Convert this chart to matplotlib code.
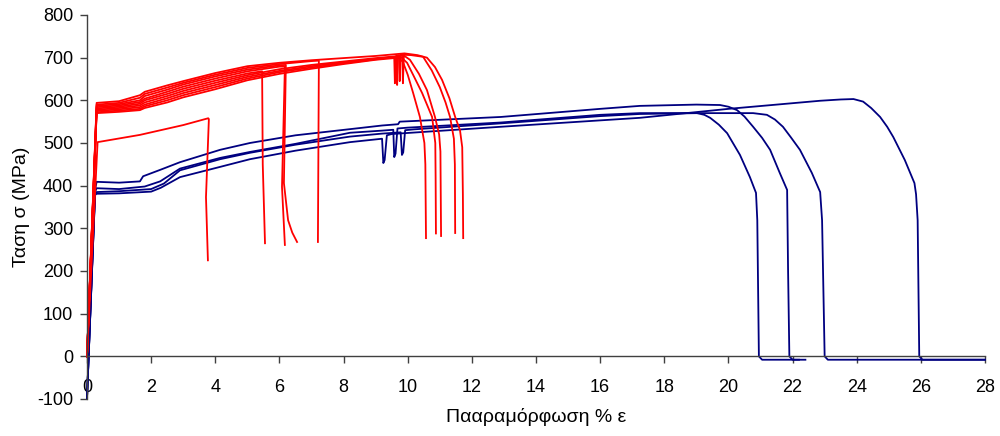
import matplotlib
matplotlib.use("Agg")
import matplotlib.pyplot as plt

plt.rcParams['font.family'] = ['Liberation Sans', 'DejaVu Sans']
plt.rcParams['axes.unicode_minus'] = False

# ---- blue specimens (strain %, stress MPa) ----
blue_a_eps = [0, 0.25, 0.3, 1.0, 1.8, 2.28, 2.9, 4.15, 5.08, 6.5, 8.2, 9.2, 9.55, 9.58, 9.62, 9.68,
              10.0, 12.9, 16.0, 17.24, 19.02, 19.25, 19.43, 19.7, 19.96, 20.36, 20.67, 20.86,
              20.9, 20.95, 21.05, 22.4]
blue_a_sig = [-98, 385, 394, 392, 398, 410, 440, 465, 479, 498, 524, 529, 531, 467, 475, 534,
              536, 548, 566, 570, 570, 566, 559, 543, 523, 472, 420, 383,
              319, 0, -8, -8]

blue_b_eps = [0, 0.25, 0.3, 1.0, 1.65, 1.75, 2.28, 2.9, 4.15, 5.08, 6.5, 8.5, 9.2, 9.7, 9.75,
              12.9, 16.0, 17.24, 19.0, 19.74, 20.0, 20.27, 20.5, 20.77, 21.05, 21.3, 21.6, 21.83,
              21.86, 21.9, 22.0, 22.2]
blue_b_sig = [-98, 390, 409, 407, 410, 422, 437, 455, 484, 500, 518, 535, 541, 544, 550,
              561, 580, 587, 590, 589, 585, 577, 562, 538, 512, 484, 430, 390,
              200, 0, -8, -8]

blue_c_eps = [0, 0.25, 0.3, 1.0, 2.0, 2.4, 2.9, 4.15, 5.08, 6.5, 8.2, 9.2, 9.78, 9.82, 9.86, 9.92,
              10.2, 12.9, 16.0, 17.24, 19.0, 20.77, 21.2, 21.45, 21.7, 21.95, 22.23, 22.6, 22.86,
              22.92, 23.0, 23.1, 28.0]
blue_c_sig = [-98, 380, 385, 387, 392, 405, 436, 462, 477, 496, 515, 522, 525, 472, 478, 530,
              532, 546, 563, 568, 570, 570, 566, 555, 538, 513, 484, 430, 385,
              319, 0, -8, -8]

blue_d_eps = [0, 0.25, 0.3, 1.0, 2.0, 2.3, 2.9, 4.15, 5.08, 6.5, 8.2, 9.2, 9.24, 9.28, 9.35, 9.5,
              12.9, 16.0, 17.24, 20.0, 22.86, 23.5, 23.9, 24.2, 24.45, 24.73, 24.95, 25.14, 25.5,
              25.8, 25.85, 25.9, 25.95, 26.05, 28.0]
blue_d_sig = [-98, 378, 381, 382, 386, 395, 420, 444, 462, 482, 502, 510, 453, 460, 518, 521,
              538, 553, 559, 580, 599, 602, 603, 597, 582, 561, 538, 514, 460,
              406, 380, 319, 0, -8, -8]

# ---- red specimens ----
red_1_eps = [0, 0.33, 1.65, 3.0, 3.78, 3.80, 3.71, 3.77]
red_1_sig = [0, 502, 519, 542, 558, 556, 373, 225]

red_2_eps = [0, 0.3, 1.0, 1.65, 1.8, 2.5, 3.0, 4.0, 5.0, 5.46, 5.48, 5.55]
red_2_sig = [0, 581, 585, 592, 600, 615, 627, 646, 663, 668, 450, 265]

red_3_eps = [0, 0.3, 1.0, 1.65, 1.8, 2.5, 3.0, 4.0, 5.0, 6.0, 6.17, 6.08, 6.17]
red_3_sig = [0, 584, 588, 596, 604, 620, 632, 651, 668, 679, 679, 397, 261]

red_4_eps = [0, 0.3, 1.0, 1.65, 1.8, 2.5, 3.0, 4.0, 5.0, 6.0, 6.2, 6.14, 6.27, 6.4, 6.55]
red_4_sig = [0, 587, 591, 600, 610, 625, 637, 656, 672, 682, 683, 406, 319, 290, 268]

red_5_eps = [0, 0.3, 1.0, 1.65, 1.8, 2.5, 3.0, 4.0, 5.0, 6.0, 7.0, 7.23, 7.2]
red_5_sig = [0, 590, 594, 606, 615, 630, 641, 660, 676, 685, 692, 693, 268]

red_6_eps = [0, 0.3, 1.0, 1.65, 1.8, 2.5, 3.0, 4.0, 5.0, 6.0, 7.0, 8.0, 9.0, 9.58, 9.6, 9.63,
             9.7, 9.85, 10.0, 10.17, 10.38, 10.52, 10.55, 10.57]
red_6_sig = [0, 570, 573, 577, 582, 595, 607, 626, 647, 662, 674, 685, 695, 699, 640, 700,
             701, 690, 660, 617, 561, 500, 450, 277]

red_7_eps = [0, 0.3, 1.0, 1.65, 1.8, 2.5, 3.0, 4.0, 5.0, 6.0, 7.0, 8.0, 9.0, 9.65, 9.67, 9.7,
             9.75, 9.98, 10.2, 10.45, 10.6, 10.76, 10.86, 10.87, 10.88]
red_7_sig = [0, 572, 576, 580, 586, 600, 612, 631, 651, 666, 677, 687, 696, 702, 636, 703,
             704, 688, 655, 617, 590, 561, 500, 420, 288]

red_8_eps = [0, 0.3, 1.0, 1.65, 1.8, 2.5, 3.0, 4.0, 5.0, 6.0, 7.0, 8.0, 9.0, 9.6, 9.83, 9.85,
             9.88, 10.07, 10.35, 10.6, 10.85, 10.98, 11.02, 11.04]
red_8_sig = [0, 575, 579, 584, 590, 605, 617, 636, 655, 669, 680, 689, 697, 702, 706, 640,
             705, 695, 662, 624, 561, 520, 480, 282]

red_9_eps = [0, 0.3, 1.0, 1.65, 1.8, 2.5, 3.0, 4.0, 5.0, 6.0, 7.0, 8.0, 9.0, 9.6, 9.73, 9.75,
             9.78, 10.1, 10.48, 10.75, 11.0, 11.18, 11.32, 11.44, 11.47, 11.48]
red_9_sig = [0, 578, 582, 588, 595, 610, 622, 641, 659, 673, 683, 691, 699, 703, 706, 645,
             707, 706, 702, 670, 631, 595, 561, 510, 450, 289]

red_10_eps = [0, 0.3, 1.0, 1.65, 1.8, 2.5, 3.0, 4.0, 5.0, 6.0, 7.0, 8.0, 9.0, 9.6, 9.9, 10.3,
              10.6, 10.85, 11.07, 11.3, 11.48, 11.63, 11.70, 11.72, 11.73]
red_10_sig = [0, 594, 598, 612, 620, 635, 645, 664, 680, 688, 694, 699, 704, 708, 710, 706,
              700, 678, 648, 605, 561, 530, 490, 380, 277]

x_ticks = list(range(0, 30, 2))
y_ticks = list(range(-100, 900, 100))

blue_curves = [(blue_a_eps, blue_a_sig), (blue_b_eps, blue_b_sig),
               (blue_c_eps, blue_c_sig), (blue_d_eps, blue_d_sig)]
red_curves = [(red_1_eps, red_1_sig), (red_2_eps, red_2_sig), (red_3_eps, red_3_sig),
              (red_4_eps, red_4_sig), (red_5_eps, red_5_sig), (red_6_eps, red_6_sig),
              (red_7_eps, red_7_sig), (red_8_eps, red_8_sig), (red_9_eps, red_9_sig),
              (red_10_eps, red_10_sig)]

fig = plt.figure(figsize=(10, 4.36), dpi=100)
ax = fig.add_axes([0.087, 0.0849, 0.898, 0.8807])

for eps, sig in blue_curves:
    ax.plot(eps, sig, color='#000080', lw=1.3, clip_on=False)
for eps, sig in red_curves:
    ax.plot(eps, sig, color='#ff0000', lw=1.3, clip_on=False)

ax.set_xlim(0, 28)
ax.set_ylim(-100, 800)
ax.set_xticks(x_ticks)
ax.set_yticks(y_ticks)

ax.spines['top'].set_visible(False)
ax.spines['right'].set_visible(False)
ax.spines['bottom'].set_position(('data', 0))
for s in ('left', 'bottom'):
    ax.spines[s].set_color('#404040')
    ax.spines[s].set_linewidth(1.0)

ax.tick_params(axis='both', direction='out', length=5, width=1.0, color='#404040',
               labelsize=13, labelcolor='black')
ax.tick_params(axis='x', pad=11)
ax.tick_params(axis='y', pad=5)

ax.set_xlabel('Πααραμόρφωση % ε', fontsize=14)
ax.set_ylabel('Ταση σ (MPa)', fontsize=14)
ax.xaxis.set_label_coords(0.5, -0.024)
ax.yaxis.set_label_coords(-0.064, 0.5)

fig.savefig('out.png', dpi=100)
